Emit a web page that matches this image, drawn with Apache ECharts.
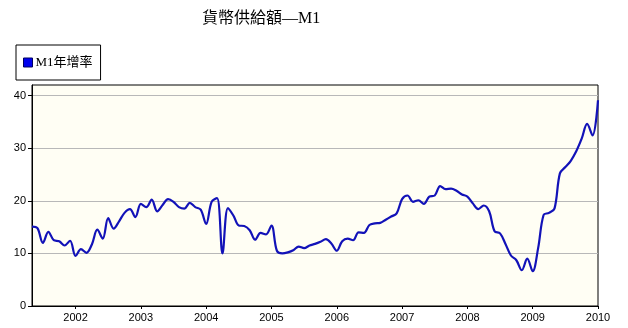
<!DOCTYPE html>
<html>
<head>
<meta charset="utf-8">
<script src="https://cdn.jsdelivr.net/npm/echarts@6/dist/echarts.min.js"></script>
<style>
  html, body { margin: 0; padding: 0; background: #fff; }
  #chart { width: 628px; height: 328px; }
</style>
</head>
<body>
<div id="chart"></div>
<script>
  // M1年增率, 每月 2001/05 ~ 2010/01
  var startYear = 2001
  var startMonth = 5
  var m1Growth = [
    15.1, 14.8, 12.0, 14.1, 12.5, 12.3, 11.5, 12.4, 9.5, 10.8, 10.1, 11.7,
    14.5, 12.8, 16.7, 14.7, 16.1, 17.7, 18.4, 16.9, 19.4, 18.8, 20.2, 18.0,
    19.2, 20.3, 19.8, 18.8, 18.5, 19.6, 18.8, 18.3, 15.6, 19.8, 20.5, 10.0,
    18.6, 17.2, 15.3, 15.2, 14.4, 12.6, 13.9, 13.6, 15.3, 10.5, 10.0, 10.2,
    10.6, 11.3, 11.0, 11.5, 11.8, 12.2, 12.7, 11.9, 10.5, 12.3, 12.8, 12.5,
    14.0, 13.9, 15.4, 15.7, 15.8, 16.4, 17.0, 17.6, 20.3, 21.0, 19.8, 20.1,
    19.4, 20.8, 21.0, 22.8, 22.2, 22.3, 21.9, 21.2, 20.8, 19.5, 18.4, 19.1,
    18.0, 14.2, 13.8, 11.8, 9.6, 8.7, 6.8, 9.0, 6.6, 11.0, 17.3, 17.7,
    18.5, 25.2, 26.4, 27.6, 29.4, 31.8, 34.6, 32.4, 39.1
  ]
  var yearTicks = [2002, 2003, 2004, 2005, 2006, 2007, 2008, 2009, 2010]
  var yTicks = [0, 10, 20, 30, 40]

  var xStart = startYear + (startMonth - 1) / 12
  var seriesData = m1Growth.map(function (v, i) {
    return [xStart + i / 12, v]
  })

  var chart = echarts.init(document.getElementById('chart'))
  var option = {
    animation: false,
    backgroundColor: '#fff',
    title: {
      text: '貨幣供給額—M1',
      left: 197,
      top: 6,
      textStyle: {
        fontFamily: '"Liberation Serif", "Noto Sans CJK TC", serif',
        fontSize: 16,
        fontWeight: 'normal',
        color: '#000'
      }
    },
    legend: {
      left: 16,
      top: 45,
      padding: [11, 8, 11, 7],
      borderColor: '#000',
      borderWidth: 1,
      backgroundColor: '#fff',
      itemWidth: 9,
      itemHeight: 9,
      itemGap: 4,
      icon: 'rect',
      textStyle: {
        fontFamily: '"Liberation Serif", "Noto Sans CJK TC", serif',
        fontSize: 13,
        color: '#000',
        padding: [0, 0, 0, -2]
      },
      data: [{
        name: 'M1年增率',
        itemStyle: { color: '#0000ee', borderColor: '#000060', borderWidth: 1 }
      }]
    },
    grid: {
      left: 32,
      right: 30,
      top: 85,
      bottom: 22,
      show: true,
      backgroundColor: '#fffef4',
      borderColor: '#000',
      borderWidth: 1
    },
    xAxis: {
      type: 'value',
      min: xStart,
      max: 2010,
      axisLine: { onZero: false, lineStyle: { color: '#000', width: 1 } },
      axisTick: { show: true, length: 3, customValues: yearTicks, lineStyle: { color: '#000' } },
      axisLabel: {
        customValues: yearTicks,
        color: '#000',
        fontFamily: '"Liberation Sans", Arial, sans-serif',
        fontSize: 11,
        margin: 6,
        formatter: function (v) { return String(Math.round(v)) }
      },
      splitLine: { show: false }
    },
    yAxis: {
      type: 'value',
      min: 0,
      max: 42,
      axisLine: { show: true, lineStyle: { color: '#000', width: 1 } },
      axisTick: { show: true, length: 4, customValues: yTicks, lineStyle: { color: '#000' } },
      axisLabel: {
        customValues: yTicks,
        color: '#000',
        fontFamily: '"Liberation Sans", Arial, sans-serif',
        fontSize: 11,
        margin: 6
      },
      splitLine: { show: true, lineStyle: { color: '#b8b8b8', width: 1 } }
    },
    series: [{
      name: 'M1年增率',
      type: 'line',
      data: seriesData,
      smooth: 0.35,
      showSymbol: false,
      lineStyle: { color: '#1212b8', width: 2.2 },
      itemStyle: { color: '#0000ee' }
    }]
  }
  chart.setOption(option)
</script>
</body>
</html>
